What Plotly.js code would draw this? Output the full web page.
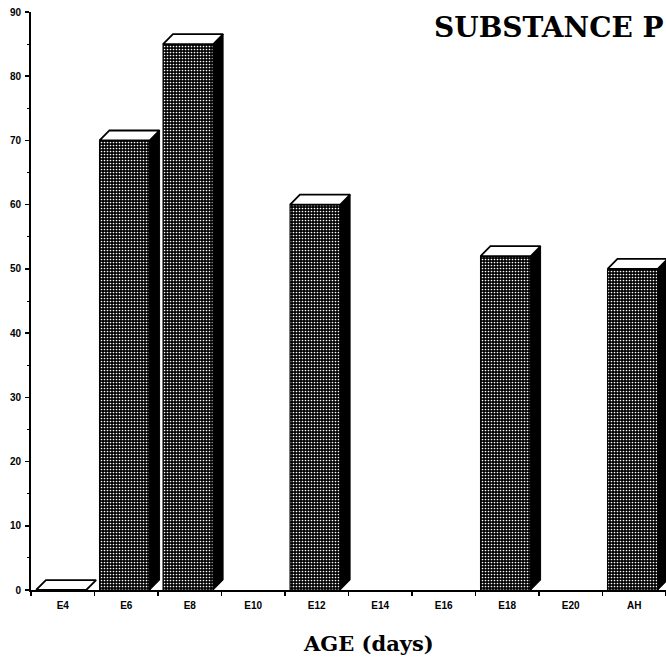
<!DOCTYPE html>
<html>
<head>
<meta charset="utf-8">
<script src="https://cdn.plot.ly/plotly-3.0.1.min.js"></script>
<style>html,body{margin:0;padding:0;background:#fff;}#chart{width:666px;height:660px;}</style>
</head>
<body>
<div id="chart"></div>
<script>
// Data
const categories = ["E4", "E6", "E8", "E10", "E12", "E14", "E16", "E18", "E20", "AH"];
const values = [0, 70, 85, null, 60, null, null, 52, null, 50];
const yTicks = [0, 10, 20, 30, 40, 50, 60, 70, 80, 90];

// Style / geometry constants
const barOffset = -0.42, barWidth = 0.79;
const depthX = 0.155, depthY = 1.55;

const idx = categories.map((c, i) => i);

const barTrace = {
  type: "bar",
  x: idx,
  y: values,
  offset: barOffset,
  width: barWidth,
  marker: {
    color: "#000",
    line: {color: "#000", width: 1.2},
    pattern: {shape: ".", bgcolor: "#000", fgcolor: "#fff", size: 3, solidity: 0.25, fillmode: "replace"}
  },
  hoverinfo: "skip",
  showlegend: false
};

// side and top faces computed from values
const sideX = [], sideY = [], topX = [], topY = [];
values.forEach((v, i) => {
  if (v === null) return;
  const x0 = i + barOffset, x1 = x0 + barWidth;
  if (v > 0) {
    sideX.push(x1, x1 + depthX, x1 + depthX, x1, x1, null);
    sideY.push(0, depthY, v + depthY, v, 0, null);
  }
  topX.push(x0, x0 + depthX, x1 + depthX, x1, x0, null);
  topY.push(v, v + depthY, v + depthY, v, v, null);
});

const sideTrace = {
  type: "scatter", mode: "lines", x: sideX, y: sideY,
  fill: "toself", fillcolor: "#000", line: {color: "#000", width: 1},
  hoverinfo: "skip", showlegend: false
};
const topTrace = {
  type: "scatter", mode: "lines", x: topX, y: topY,
  fill: "toself", fillcolor: "#fff", line: {color: "#000", width: 1.8},
  hoverinfo: "skip", showlegend: false
};

const layout = {
  width: 666, height: 660,
  margin: {l: 31, r: 0, t: 12, b: 70},
  paper_bgcolor: "#fff", plot_bgcolor: "#fff",
  showlegend: false,
  xaxis: {
    range: [-0.5, 9.5],
    tickmode: "array", tickvals: idx, ticktext: categories,
    ticks: "", showgrid: false, zeroline: false,
    showline: true, linecolor: "#000", linewidth: 2,
    tickfont: {family: "Liberation Sans, Arial, sans-serif", size: 10, color: "#000", weight: "bold"},
    ticklabelstandoff: 5,
    minor: {ticks: "outside", tickmode: "linear", tick0: -0.5, dtick: 1, ticklen: 4, tickwidth: 1.5, tickcolor: "#000", showgrid: false}
  },
  yaxis: {
    range: [0, 90],
    tickmode: "array", tickvals: yTicks,
    ticks: "outside", ticklen: 4, tickwidth: 1.5, tickcolor: "#000",
    showgrid: false, zeroline: false,
    showline: true, linecolor: "#000", linewidth: 2,
    tickfont: {family: "Liberation Sans, Arial, sans-serif", size: 10, color: "#000", weight: "bold"},
    ticklabelstandoff: 2,
    minor: {ticks: "outside", tickmode: "linear", tick0: 5, dtick: 10, ticklen: 2, tickwidth: 1, tickcolor: "#000", showgrid: false}
  },
  annotations: [
    {text: "SUBSTANCE P", xref: "paper", yref: "paper", x: 1, y: 0.973, xanchor: "right", yanchor: "middle",
     showarrow: false, font: {family: "DejaVu Serif, serif", size: 28, color: "#000", weight: "bold"}},
    {text: "AGE (days)", xref: "paper", yref: "paper", x: 0.531, y: -0.092, xanchor: "center", yanchor: "middle",
     showarrow: false, font: {family: "DejaVu Serif, serif", size: 21, color: "#000", weight: "bold"}}
  ]
};

Plotly.newPlot("chart", [barTrace, sideTrace, topTrace], layout, {staticPlot: true, displayModeBar: false});
</script>
</body>
</html>
